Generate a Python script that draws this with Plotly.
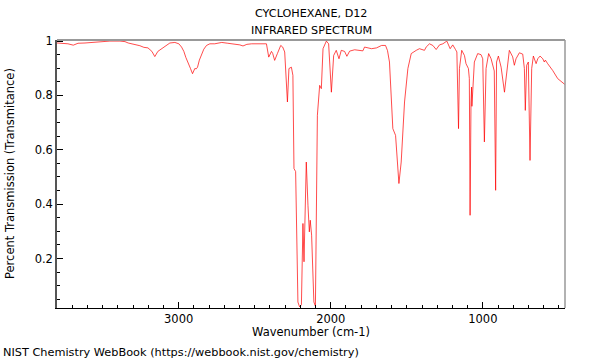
import plotly.graph_objects as go

# Wavenumber (cm-1) and transmittance
wavenumber = [3800, 3767, 3728, 3693, 3662, 3616, 3550, 3452, 3386, 3353, 3332, 3288, 3255, 3229,
              3202, 3176, 3157, 3137, 3113, 3084, 3058, 3025, 2999, 2981, 2966, 2953, 2938, 2923,
              2909, 2900, 2894, 2884, 2876, 2864, 2850, 2835, 2817, 2795, 2763, 2717, 2677, 2631,
              2598, 2577, 2552, 2520, 2467, 2423, 2408, 2390, 2382, 2369, 2351, 2329, 2316, 2303,
              2285, 2275, 2259, 2249, 2242, 2231, 2216, 2205, 2193, 2183, 2176, 2161, 2150, 2141,
              2135, 2126, 2111, 2101, 2088, 2073, 2062, 2051, 2029, 2014, 1996, 1981, 1964, 1946,
              1931, 1909, 1894, 1876, 1843, 1789, 1778, 1732, 1699, 1666, 1640, 1627, 1614, 1592,
              1574, 1564, 1552, 1537, 1515, 1493, 1471, 1438, 1417, 1384, 1373, 1351, 1329, 1307,
              1285, 1263, 1237, 1215, 1198, 1180, 1171, 1160, 1154, 1139, 1121, 1111, 1095, 1089,
              1084, 1078, 1074, 1072, 1056, 1034, 1012, 1001, 990, 979, 962, 946, 931, 925, 916,
              910, 898, 880, 858, 847, 826, 804, 793, 782, 760, 738, 727, 721, 712, 701, 690, 679,
              668, 650, 639, 624, 606, 596, 589, 574, 541, 508, 486, 460]
transmittance = [0.993, 0.992, 0.990, 0.985, 0.992, 0.993, 0.996, 1.000, 1.000, 0.998, 0.993, 0.988,
                 0.983, 0.977, 0.975, 0.962, 0.943, 0.962, 0.972, 0.985, 0.993, 0.995, 0.990, 0.978,
                 0.962, 0.940, 0.923, 0.900, 0.880, 0.893, 0.899, 0.898, 0.904, 0.930, 0.947, 0.970,
                 0.984, 0.990, 0.990, 0.995, 0.992, 0.990, 0.986, 0.982, 0.988, 0.990, 0.990, 0.990,
                 0.941, 0.962, 0.955, 0.929, 0.954, 0.984, 0.978, 0.960, 0.776, 0.899, 0.904, 0.874,
                 0.531, 0.520, 0.040, 0.022, 0.030, 0.329, 0.188, 0.555, 0.396, 0.298, 0.341, 0.286,
                 0.040, 0.025, 0.727, 0.837, 0.825, 0.972, 1.000, 0.990, 0.812, 0.947, 0.966, 0.935,
                 0.966, 0.962, 0.944, 0.963, 0.968, 0.964, 0.978, 0.972, 0.975, 0.984, 0.984, 0.965,
                 0.923, 0.678, 0.653, 0.560, 0.476, 0.555, 0.776, 0.899, 0.954, 0.966, 0.972, 0.966,
                 0.978, 0.990, 0.984, 0.969, 0.986, 0.990, 1.000, 0.972, 0.986, 0.969, 0.960, 0.678,
                 0.899, 0.966, 0.947, 0.917, 0.899, 0.862, 0.359, 0.776, 0.831, 0.760, 0.923, 0.954,
                 0.950, 0.935, 0.629, 0.899, 0.954, 0.935, 0.899, 0.890, 0.451, 0.923, 0.945, 0.904,
                 0.812, 0.874, 0.966, 0.942, 0.911, 0.935, 0.957, 0.952, 0.899, 0.745, 0.911, 0.923,
                 0.561, 0.899, 0.945, 0.917, 0.935, 0.945, 0.935, 0.923, 0.930, 0.917, 0.892, 0.862,
                 0.852, 0.840]

x_ticks = [3000, 2000, 1000]
x_tick_labels = ["3000", "2000", "1000"]
y_ticks = [0.2, 0.4, 0.6, 0.8, 1.0]
y_tick_labels = ["0.2", "0.4", "0.6", "0.8", "1"]

FONT = "DejaVu Sans"

fig = go.Figure()
fig.add_trace(go.Scatter(x=wavenumber, y=transmittance, mode="lines",
                         line=dict(color="rgba(255,0,0,0.7)", width=1),
                         hoverinfo="skip", showlegend=False))

fig.update_layout(
    width=600, height=360,
    margin=dict(l=57, r=35, t=40, b=52),
    paper_bgcolor="white", plot_bgcolor="white",
    font=dict(family=FONT, size=11, color="black"),
    showlegend=False,
    xaxis=dict(range=[3800, 460], showgrid=False, zeroline=False,
               tickvals=x_ticks, ticktext=x_tick_labels,
               ticks="inside", ticklen=6, tickcolor="black", tickwidth=1,
               showline=True, linecolor="black", linewidth=1,
               minor=dict(dtick=100, tick0=0, ticks="inside", ticklen=3,
                          tickcolor="black", showgrid=False),
               tickfont=dict(family=FONT, size=11.5)),
    yaxis=dict(range=[0.018, 1.004], showgrid=False, zeroline=False,
               tickvals=y_ticks, ticktext=y_tick_labels,
               ticks="inside", ticklen=6, tickcolor="black", tickwidth=1,
               showline=True, linecolor="#555555", linewidth=1.5,
               minor=dict(dtick=0.05, tick0=0, ticks="inside", ticklen=3,
                          tickcolor="black", showgrid=False),
               tickfont=dict(family=FONT, size=11.5)),
    shapes=[
        dict(type="line", xref="paper", yref="paper", x0=0, x1=1, y0=1, y1=1,
             line=dict(color="#999999", width=2)),
        dict(type="line", xref="paper", yref="paper", x0=1, x1=1, y0=0, y1=1,
             line=dict(color="#999999", width=1.5)),
    ],
    annotations=[
        dict(text="CYCLOHEXANE, D12", xref="paper", yref="paper", x=0.5, y=1,
             yanchor="middle", yshift=27, showarrow=False, font=dict(size=11.2)),
        dict(text="INFRARED SPECTRUM", xref="paper", yref="paper", x=0.5, y=1,
             yanchor="middle", yshift=10, showarrow=False, font=dict(size=11.2)),
        dict(text="Wavenumber (cm-1)", xref="paper", yref="paper", x=0.5, y=0,
             yanchor="middle", yshift=-24, showarrow=False, font=dict(size=11.5)),
        dict(text="Percent Transmission (Transmitance)", xref="paper", yref="paper",
             x=0, y=0.5, xanchor="center", yanchor="middle", xshift=-47, textangle=-90,
             showarrow=False, font=dict(size=11.5)),
        dict(text="NIST Chemistry WebBook (https://webbook.nist.gov/chemistry)",
             xref="paper", yref="paper", x=0, y=0, xanchor="left", yanchor="middle",
             xshift=-56, yshift=-44, showarrow=False, font=dict(size=11.3)),
    ],
)

fig.write_html("out.html",
               config={"displayModeBar": False},
               post_script="document.body.style.margin='0';"
                           "document.body.style.overflow='hidden';")
